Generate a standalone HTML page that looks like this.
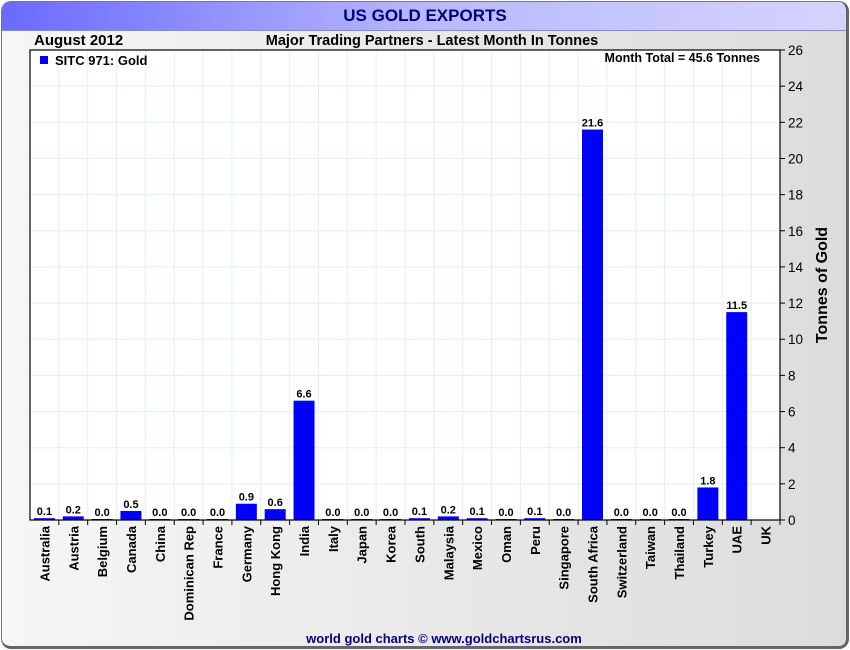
<!DOCTYPE html>
<html><head><meta charset="utf-8"><style>
body{margin:0;width:850px;height:650px;overflow:hidden;background:#fff;font-family:"Liberation Sans",sans-serif}
#panel{position:absolute;left:1px;top:1px;width:844px;height:644px;border:1px solid #777;border-right:3px solid #666;border-bottom:3px solid #666;border-radius:10px;background:linear-gradient(to right,#f6f6f6,#dcdcdc);overflow:hidden}
#titlebar{position:absolute;left:0;top:0;width:100%;height:28px;background:linear-gradient(to right,#6a6aff,#b8b8ff 50%,#d4d4ff);border-bottom:1px solid #8888cc}
</style></head><body>
<div id="panel">
<div id="titlebar"></div>
</div>
<svg id="chart" width="850" height="650" style="position:absolute;left:0;top:0" font-family="Liberation Sans, sans-serif">
<text x="425" y="21" text-anchor="middle" font-size="17" font-weight="bold" fill="#000080">US GOLD EXPORTS</text>
<text x="34" y="45" font-size="15" font-weight="bold">August 2012</text>
<text x="432" y="45" text-anchor="middle" font-size="14.5" font-weight="bold">Major Trading Partners - Latest Month In Tonnes</text>
<rect x="30" y="50" width="750" height="470" fill="#fff"/>
<g id="grid"></g><g id="bars"></g><g id="axes"></g>
<rect x="30" y="50" width="750" height="470" fill="none" stroke="#000" stroke-width="1.2"/>
<rect x="40" y="56" width="8" height="8" fill="#0000ff"/>
<text x="55" y="65" font-size="13" font-weight="bold">SITC 971: Gold</text>
<text x="760" y="62" text-anchor="end" font-size="12.5" font-weight="bold">Month Total = 45.6 Tonnes</text>
<text transform="translate(827,285) rotate(-90)" text-anchor="middle" font-size="16" font-weight="bold">Tonnes of Gold</text>
<text x="444" y="643" text-anchor="middle" font-size="13" font-weight="bold" fill="#000080">world gold charts © www.goldchartsrus.com</text>
</svg>
<script>
const categories=["Australia","Austria","Belgium","Canada","China","Dominican Rep","France","Germany","Hong Kong","India","Italy","Japan","Korea","South","Malaysia","Mexico","Oman","Peru","Singapore","South Africa","Switzerland","Taiwan","Thailand","Turkey","UAE","UK"];
const values=[0.1,0.2,0.0,0.5,0.0,0.0,0.0,0.9,0.6,6.6,0.0,0.0,0.0,0.1,0.2,0.1,0.0,0.1,0.0,21.6,0.0,0.0,0.0,1.8,11.5,null];
const yTicks=[0,2,4,6,8,10,12,14,16,18,20,22,24,26];
const L=30,R=780,T=50,B=520,yMax=26;
const bw=(R-L)/categories.length;
const y=v=>B-(v/yMax)*(B-T);
const x=i=>L+bw*(i+0.5);
const NS="http://www.w3.org/2000/svg";
function mk(t,a,p){const e=document.createElementNS(NS,t);for(const k in a)e.setAttribute(k,a[k]);p.appendChild(e);return e;}
const grid=document.getElementById('grid'),bars=document.getElementById('bars'),axes=document.getElementById('axes');
for(let i=1;i<categories.length;i++){const g=mk('line',{x1:L+bw*i,x2:L+bw*i,y1:T,y2:B,stroke:'#e2eef8'},grid);

}
yTicks.forEach(v=>{
 const g=mk('line',{x1:L,x2:R,y1:y(v),y2:y(v),stroke:'#e2eef8'},grid);
 
 
 const tk=mk('line',{x1:R,x2:R+5,y1:y(v),y2:y(v),stroke:'#000'},axes);
 
 
 const t=mk('text',{x:R+8,y:y(v)+5,'font-size':13.5},axes);t.textContent=v;
 
 
});
categories.forEach((c,i)=>{
 const tk=mk('line',{x1:L+bw*(i+1),x2:L+bw*(i+1),y1:B,y2:B+5,stroke:'#000'},axes);
 
 
 const t=mk('text',{transform:`translate(${x(i)+5},${B+6}) rotate(-90)`,'text-anchor':'end','font-size':13,'font-weight':'bold'},axes);t.textContent=c;
 
 
 const v=values[i];
 if(v===null)return;
 const h=Math.max(B-y(v),1);
 const r=mk('rect',{x:x(i)-10.5,y:B-h,width:21,height:h,fill:'#0000ff'},bars);
 
 
 const lb=mk('text',{x:x(i),y:B-h-3,'text-anchor':'middle','font-size':11,'font-weight':'bold'},bars);lb.textContent=v.toFixed(1);
 
 
});
</script>
</body></html>
